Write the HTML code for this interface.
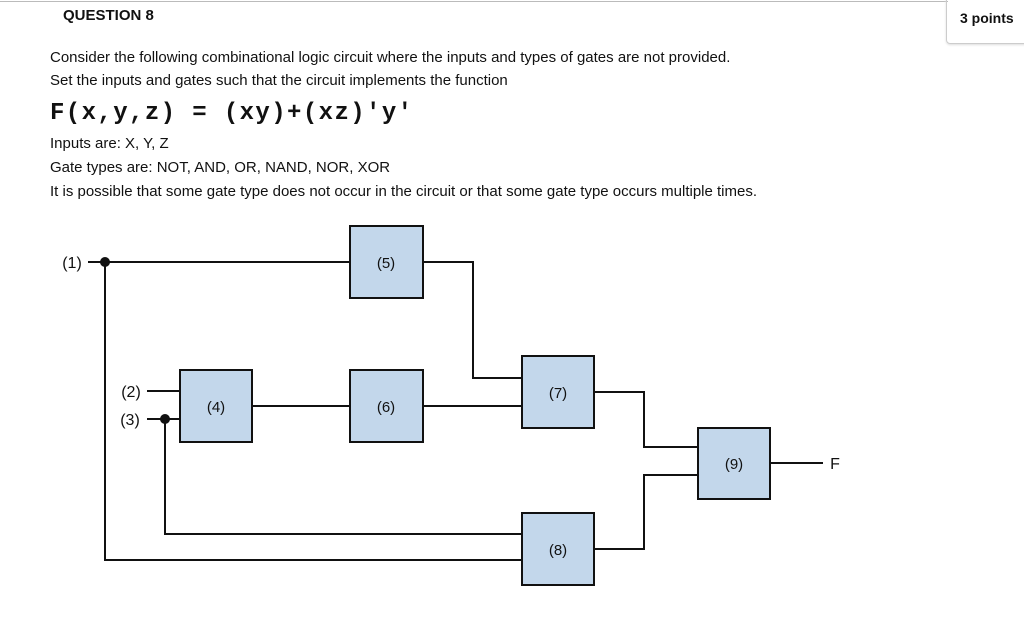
<!DOCTYPE html>
<html><head><style>
body{margin:0;width:1024px;height:619px;background:#fff;position:relative;overflow:hidden;font-family:"Liberation Sans",Arial,sans-serif;color:#111}
.t{position:absolute;white-space:nowrap;font-size:15px}
</style></head><body>
<div style="position:absolute;left:0;top:1px;width:948px;border-top:1px solid #bbb"></div>
<div style="position:absolute;left:946px;top:-2px;width:80px;height:44px;border:1px solid #ccc;border-radius:0 0 0 4px;box-shadow:0 1px 2px #ddd"></div>
<div class="t" style="left:63px;top:7px;font-weight:bold;font-size:15px">QUESTION 8</div>
<div class="t" style="left:960px;top:10px;font-weight:bold;font-size:14px">3 points</div>
<div class="t" style="left:50px;top:49px">Consider the following combinational logic circuit where the inputs and types of gates are not provided.</div>
<div class="t" style="left:50px;top:72px">Set the inputs and gates such that the circuit implements the function</div>
<div class="t" style="left:50px;top:100px;font-family:'Liberation Mono',monospace;font-weight:bold;font-size:24px;letter-spacing:1.4px">F(x,y,z) = (xy)+(xz)'y'</div>
<div class="t" style="left:50px;top:135px">Inputs are: X, Y, Z</div>
<div class="t" style="left:50px;top:159px">Gate types are: NOT, AND, OR, NAND, NOR, XOR</div>
<div class="t" style="left:50px;top:183px">It is possible that some gate type does not occur in the circuit or that some gate type occurs multiple times.</div>
<svg width="1024" height="619" style="position:absolute;left:0;top:0" font-family="Liberation Sans,Arial,sans-serif" font-size="15">
<g stroke="#111" stroke-width="2" fill="none">
<path d="M88 262H350M105 262V560H522M165 419V534H522M147 391H180M147 419H180M252 406H350M423 406H522M423 262H473V378H522M594 392H644V447H698M594 549H644V475H698M770 463H823"/>
</g>
<g fill="#c3d7eb" stroke="#111" stroke-width="2">
<rect x="350" y="226" width="73" height="72"/>
<rect x="180" y="370" width="72" height="72"/>
<rect x="350" y="370" width="73" height="72"/>
<rect x="522" y="356" width="72" height="72"/>
<rect x="522" y="513" width="72" height="72"/>
<rect x="698" y="428" width="72" height="71"/>
</g>
<circle cx="105" cy="262" r="5" fill="#111"/>
<circle cx="165" cy="419" r="5" fill="#111"/>
<g fill="#111" text-anchor="middle">
<text x="386" y="268">(5)</text><text x="216" y="412">(4)</text><text x="386" y="412">(6)</text>
<text x="558" y="398">(7)</text><text x="558" y="555">(8)</text><text x="734" y="469">(9)</text>
<text x="72" y="268" font-size="16">(1)</text><text x="131" y="397" font-size="16">(2)</text><text x="130" y="425" font-size="16">(3)</text>
<text x="835" y="469" font-size="16">F</text>
</g>
</svg>
</body></html>
